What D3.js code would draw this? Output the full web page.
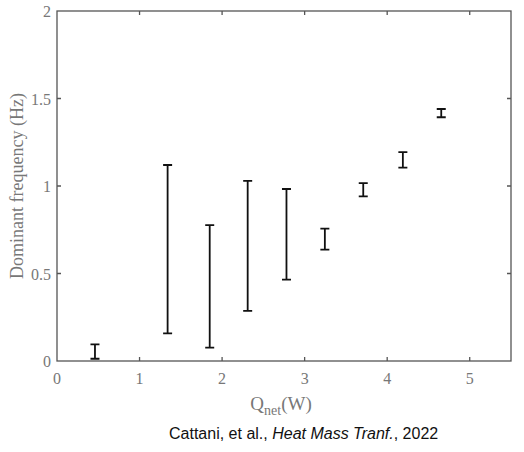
<!DOCTYPE html>
<html>
<head>
<meta charset="utf-8">
<script src="https://cdn.jsdelivr.net/npm/d3@7"></script>
<style>
  body { margin: 0; background: #fff; }
  svg { display: block; }
</style>
</head>
<body>
<script>
// data
var qNet = [0.46, 1.34, 1.85, 2.31, 2.78, 3.245, 3.71, 4.19, 4.655];
var freqLow = [0.013, 0.158, 0.076, 0.287, 0.465, 0.636, 0.941, 1.105, 1.393];
var freqHigh = [0.095, 1.12, 0.777, 1.029, 0.983, 0.756, 1.017, 1.194, 1.44];
var xTicks = [0, 1, 2, 3, 4, 5];
var yTicks = [0, 0.5, 1, 1.5, 2];
var yTickLabels = ["0", "0.5", "1", "1.5", "2"];

var width = 524, height = 452;
var margin = {top: 11, right: 13, bottom: 91, left: 57};
var axisColor = "#555";
var labelColor = "#777";
var serif = "'Liberation Serif', 'Times New Roman', serif";

var svg = d3.select("body").append("svg")
    .attr("width", width)
    .attr("height", height);

var x = d3.scaleLinear().domain([0, 5.5]).range([margin.left, width - margin.right]);
var y = d3.scaleLinear().domain([0, 2]).range([height - margin.bottom, margin.top]);

var data = qNet.map(function (q, i) {
    return {q: q, lo: freqLow[i], hi: freqHigh[i]};
});

var tickLen = 4;

// frame + inward ticks
var frame = svg.append("g").attr("stroke", axisColor).attr("stroke-width", 1.3).attr("fill", "none");
frame.append("rect")
    .attr("x", x(0)).attr("y", y(2))
    .attr("width", x(5.5) - x(0)).attr("height", y(0) - y(2));

frame.selectAll(".xt").data(xTicks.filter(function (d) { return d > 0; }))
    .enter().append("path")
    .attr("d", function (d) {
        return "M" + x(d) + "," + y(0) + "v" + (-tickLen) + "M" + x(d) + "," + y(2) + "v" + tickLen;
    });

frame.selectAll(".yt").data(yTicks.filter(function (d) { return d > 0 && d < 2; }))
    .enter().append("path")
    .attr("d", function (d) {
        return "M" + x(0) + "," + y(d) + "h" + tickLen + "M" + x(5.5) + "," + y(d) + "h" + (-tickLen);
    });

// tick labels
svg.selectAll(".xl").data(xTicks)
    .enter().append("text")
    .attr("x", function (d) { return x(d); })
    .attr("y", y(0) + 23)
    .attr("text-anchor", "middle")
    .attr("font-family", serif)
    .attr("font-size", 16)
    .attr("fill", labelColor)
    .text(function (d) { return d; });

svg.selectAll(".yl").data(yTicks)
    .enter().append("text")
    .attr("x", x(0) - 6)
    .attr("y", function (d) { return y(d) + 6; })
    .attr("text-anchor", "end")
    .attr("font-family", serif)
    .attr("font-size", 16)
    .attr("fill", labelColor)
    .text(function (d, i) { return yTickLabels[i]; });

// axis titles
var xt = svg.append("text")
    .attr("x", (x(0) + x(5.5)) / 2 - 3)
    .attr("y", 410)
    .attr("text-anchor", "middle")
    .attr("font-family", serif)
    .attr("font-size", 19)
    .attr("fill", labelColor);
xt.append("tspan").text("Q");
xt.append("tspan").attr("font-size", 14).attr("dy", 5).text("net");
xt.append("tspan").attr("dy", -5).text("(W)");

svg.append("text")
    .attr("transform", "translate(23," + ((y(0) + y(2)) / 2) + ") rotate(-90)")
    .attr("text-anchor", "middle")
    .attr("font-family", serif)
    .attr("font-size", 18)
    .attr("fill", labelColor)
    .text("Dominant frequency (Hz)");

// error bars
var capW = 4.5;
var bars = svg.append("g").attr("stroke", "#111").attr("stroke-width", 1.8).attr("fill", "none");
bars.selectAll("path").data(data)
    .enter().append("path")
    .attr("d", function (d) {
        var cx = x(d.q), y1 = y(d.hi), y2 = y(d.lo);
        return "M" + cx + "," + y1 + "V" + y2 +
            "M" + (cx - capW) + "," + y1 + "h" + (2 * capW) +
            "M" + (cx - capW) + "," + y2 + "h" + (2 * capW);
    });

// source caption
var cap = svg.append("text")
    .attr("x", 169)
    .attr("y", 439)
    .attr("font-family", "'Liberation Sans', Arial, sans-serif")
    .attr("font-size", 16)
    .attr("fill", "#111");
cap.append("tspan").text("Cattani, et al., ");
cap.append("tspan").attr("font-style", "italic").text("Heat Mass Tranf.");
cap.append("tspan").text(", 2022");
</script>
</body>
</html>
